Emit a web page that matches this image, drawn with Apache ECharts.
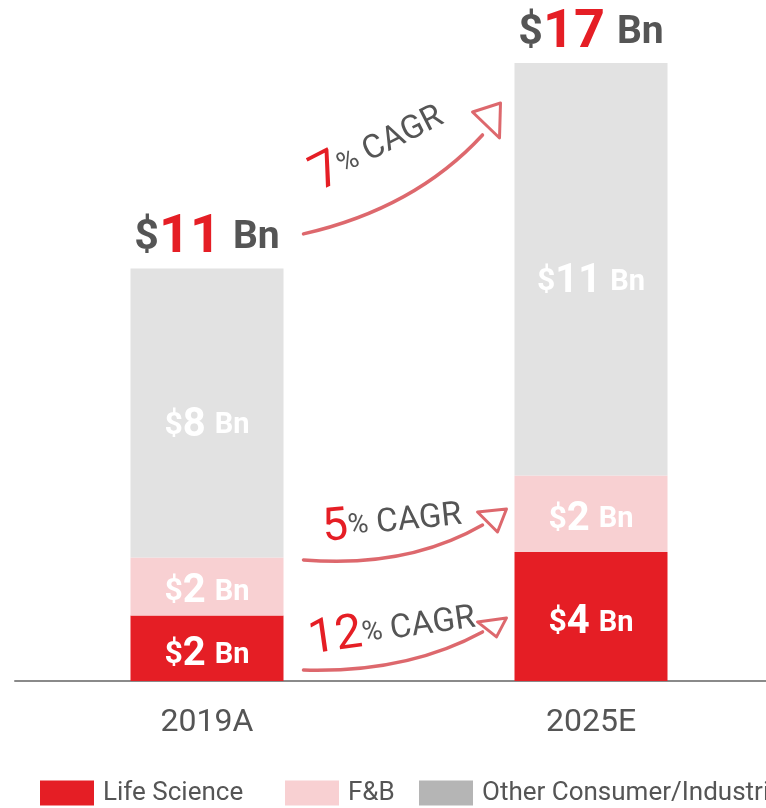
<!DOCTYPE html>
<html>
<head>
<meta charset="utf-8">
<script src="https://cdn.jsdelivr.net/npm/echarts@6/dist/echarts.min.js"></script>
<style>
  html, body { margin: 0; padding: 0; background: #fff; }
  #main { width: 766px; height: 808px; }
</style>
</head>
<body>
<div id="main"></div>
<script>
// categories and values ($ Bn)
var years = ['2019A', '2025E'];
var lifeScience = [1.8, 3.55];
var foodBev = [1.6, 2.1];
var otherInd = [7.95, 11.35];

// printed labels
var lifeLabels = ['2', '4'];
var fnbLabels = ['2', '2'];
var otherLabels = ['8', '11'];
var totalLabels = ['11', '17'];

// growth arrows: [rate, start value on 2019A side, end value on 2025E side]
var cagrRates = ['12', '5', '7'];
var cagrFrom = [0.3, 3.33, 12.3];
var cagrTo = [1.35, 4.29, 15.02];

var RED = '#e51e25', PINK = '#f8d0d2', GREY = '#e2e2e2', TXT = '#555555';
var FONT = 'Roboto, "Noto Sans", sans-serif';

function innerLabel(arr, dy) {
    return {
        show: true,
        position: 'inside',
        offset: [0, dy],
        formatter: function (p) { return '{d|$}{n|' + arr[p.dataIndex] + '}{b|Bn}'; },
        rich: {
            d: { color: '#fff', fontSize: 32, fontWeight: 'bold', fontFamily: FONT },
            n: { color: '#fff', fontSize: 40, fontWeight: 'bold', fontFamily: FONT },
            b: { color: '#fff', fontSize: 29, fontWeight: 'bold', fontFamily: FONT, padding: [0, 0, 0, 9] }
        }
    };
}

// one legend block per series so each sits where the original has it
var legendNames = ['Life Science', 'F&B', 'Other Consumer/Industrial'];
var legendLeft = [40, 285, 419];
var legendIcon = [RED, PINK, '#b5b5b5'];
var legends = legendNames.map(function (n, i) {
    return {
        left: legendLeft[i], top: 780,
        itemWidth: 54, itemHeight: 25,
        padding: 0, icon: 'rect',
        textStyle: { color: TXT, fontSize: 26, fontFamily: FONT, padding: [0, 0, 0, 4] },
        data: [{ name: n, itemStyle: { color: legendIcon[i] } }]
    };
});

var myChart = echarts.init(document.getElementById('main'));

var option = {
    animation: false,
    backgroundColor: '#fff',
    // the plot runs a little past the right edge, as in the original
    grid: { left: 15, width: 768, top: 63, bottom: 127, outerBoundsMode: 'none', containLabel: false },
    legend: legends,
    xAxis: {
        type: 'category',
        data: years,
        axisTick: { show: false },
        axisLine: { lineStyle: { color: '#8a8a8a', width: 2 } },
        axisLabel: { color: TXT, fontSize: 32, margin: 26, fontFamily: FONT }
    },
    yAxis: {
        type: 'value', min: 0, max: 17, show: false,
        splitLine: { show: false }
    },
    series: [
        {
            name: 'Life Science', type: 'bar', stack: 'all', barWidth: 153,
            itemStyle: { color: RED }, data: lifeScience, label: innerLabel(lifeLabels, 7)
        },
        {
            name: 'F&B', type: 'bar', stack: 'all',
            itemStyle: { color: PINK }, data: foodBev, label: innerLabel(fnbLabels, 6)
        },
        {
            name: 'Other Consumer/Industrial', type: 'bar', stack: 'all',
            itemStyle: { color: GREY }, data: otherInd, label: innerLabel(otherLabels, 13)
        },
        {
            name: 'Total', type: 'bar', stack: 'all',
            itemStyle: { color: 'transparent' }, data: [0, 0],
            label: {
                show: true, position: 'top', distance: 2,
                formatter: function (p) { return '{d|$}{n|' + totalLabels[p.dataIndex] + '}{b|Bn}'; },
                rich: {
                    d: { color: TXT, fontSize: 43, fontWeight: 'bold', fontFamily: FONT, lineHeight: 56 },
                    n: { color: RED, fontSize: 54, fontWeight: 'bold', fontFamily: FONT, lineHeight: 56 },
                    b: { color: TXT, fontSize: 39, fontWeight: 'bold', fontFamily: FONT, lineHeight: 56, padding: [0, 0, 0, 12] }
                }
            }
        }
    ]
};

myChart.setOption(option);

// hand-drawn style CAGR arrows between the two bars
var strokeCol = 'rgba(212,62,68,0.78)';
var heads = [
    [[-5, -10], [24, -14], [14, 5]],
    [[-5, -13], [24, -16], [15, 7]],
    [[-10, -23], [18, -32], [17, 3]]
];
var sags = [[14, 22], [14, 26], [22, 24]];
var textOff = [[-1, -21], [-1, -20], [-15, -37]];
var textRot = [0.14, 0.1, 0.47];
var bigSize = [48, 46, 50];

var graphics = [];
for (var i = 0; i < cagrRates.length; i++) {
    var p0 = myChart.convertToPixel({ gridIndex: 0 }, [0, cagrFrom[i]]);
    var p1 = myChart.convertToPixel({ gridIndex: 0 }, [1, cagrTo[i]]);
    var sx = p0[0] + 153 / 2 + 20, sy = p0[1];
    var ex = p1[0] - 153 / 2 - 32, ey = p1[1];
    var mx = (sx + ex) / 2, my = (sy + ey) / 2;
    graphics.push({
        type: 'bezierCurve',
        shape: { x1: sx, y1: sy, x2: ex, y2: ey, cpx1: mx + sags[i][0], cpy1: my + sags[i][1] },
        style: { stroke: strokeCol, lineWidth: 3.5, fill: null, lineCap: 'round' }
    });
    graphics.push({
        type: 'polygon',
        shape: { points: heads[i].map(function (o) { return [ex + o[0], ey + o[1]]; }) },
        style: { stroke: strokeCol, lineWidth: 3, fill: null, lineJoin: 'round' }
    });
    graphics.push({
        type: 'text',
        x: mx + textOff[i][0], y: my + textOff[i][1],
        rotation: textRot[i],
        style: {
            text: '{n|' + cagrRates[i] + '}{p|%}{c|CAGR}',
            align: 'center', verticalAlign: 'middle',
            rich: {
                n: { fill: RED, fontSize: bigSize[i], fontFamily: FONT },
                p: { fill: TXT, fontSize: 28, fontFamily: FONT },
                c: { fill: TXT, fontSize: 33, fontFamily: FONT, padding: [0, 0, 0, 8] }
            }
        }
    });
}
myChart.setOption({ graphic: graphics });
</script>
</body>
</html>
